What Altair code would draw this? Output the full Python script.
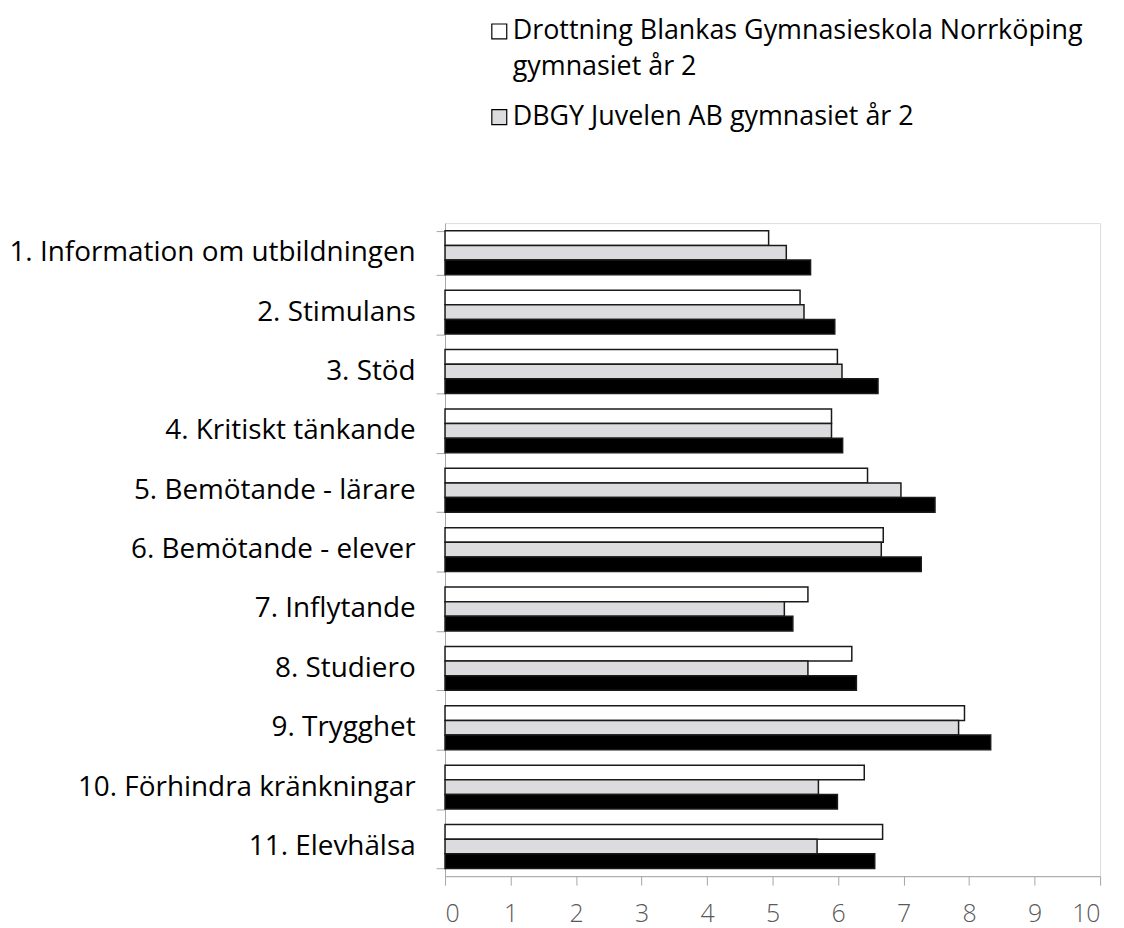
import altair as alt
import pandas as pd

categories = ["1. Information om utbildningen", "2. Stimulans", "3. Stöd",
              "4. Kritiskt tänkande", "5. Bemötande - lärare", "6. Bemötande - elever",
              "7. Inflytande", "8. Studiero", "9. Trygghet",
              "10. Förhindra kränkningar", "11. Elevhälsa"]
series_names = ["Drottning Blankas Gymnasieskola Norrköping gymnasiet år 2",
                "DBGY Juvelen AB gymnasiet år 2",
                "Jämförelse"]
s1 = [4.94, 5.42, 5.99, 5.90, 6.45, 6.69, 5.54, 6.21, 7.93, 6.40, 6.68]
s2 = [5.21, 5.48, 6.06, 5.90, 6.96, 6.66, 5.18, 5.54, 7.84, 5.70, 5.68]
s3 = [5.58, 5.95, 6.61, 6.07, 7.48, 7.27, 5.31, 6.28, 8.33, 5.99, 6.56]
colors = ["#ffffff", "#dcdcde", "#000000"]
x_ticks = list(range(0, 11))

rows = []
for vals, name in zip([s1, s2, s3], series_names):
    for c, v in zip(categories, vals):
        rows.append({"kategori": c, "serie": name, "värde": v})
df = pd.DataFrame(rows)

FONT = "Open Sans"
label_expr = ("datum.label == 'Drottning Blankas Gymnasieskola Norrköping gymnasiet år 2' "
              "? ['Drottning Blankas Gymnasieskola Norrköping', 'gymnasiet år 2'] "
              ": datum.label")

chart = alt.Chart(df).mark_bar(stroke="#1a1a1a", strokeWidth=1.5).encode(
    y=alt.Y("kategori:N", sort=categories, title=None,
            scale=alt.Scale(paddingInner=0.26, paddingOuter=0.13),
            axis=alt.Axis(tickBand="extent", domainColor="#a6a6a6", tickColor="#a6a6a6",
                          tickSize=9, labelFontSize=28, labelColor="#000000",
                          labelFont=FONT, labelPadding=21, labelLimit=700, grid=False)),
    yOffset=alt.YOffset("serie:N", sort=series_names,
                        scale=alt.Scale(paddingInner=0, paddingOuter=0)),
    x=alt.X("värde:Q", title=None,
            scale=alt.Scale(domain=[0, 10], nice=False),
            axis=alt.Axis(values=x_ticks, grid=False, domainColor="#a6a6a6", tickColor="#a6a6a6",
                          tickSize=9, labelFontSize=25, labelColor="#595959", labelFont=FONT,
                          labelFontWeight=300, labelPadding=17, format="d")),
    fill=alt.Fill("serie:N", sort=series_names,
                  scale=alt.Scale(domain=series_names, range=colors),
                  legend=alt.Legend(
                      values=series_names[:2], title=None, orient="none",
                      legendX=41, legendY=-206, direction="vertical", padding=0,
                      symbolType="square", symbolSize=225,
                      symbolStrokeColor="#000000", symbolStrokeWidth=1.2,
                      labelFont=FONT, labelFontSize=27, labelColor="#000000",
                      labelLimit=900, rowPadding=22, labelOffset=0,
                      labelBaseline="middle", labelExpr=label_expr)),
).properties(
    width=658, height=656,
    autosize=alt.AutoSizeParams(type="none"),
    padding={"top": 214, "left": 439, "right": 16, "bottom": 50},
).configure_view(stroke=None).configure(
    font=FONT, style={"guide-label": {"lineHeight": 36}})

chart.save("out.html", embed_options={"renderer": "svg", "actions": False})
